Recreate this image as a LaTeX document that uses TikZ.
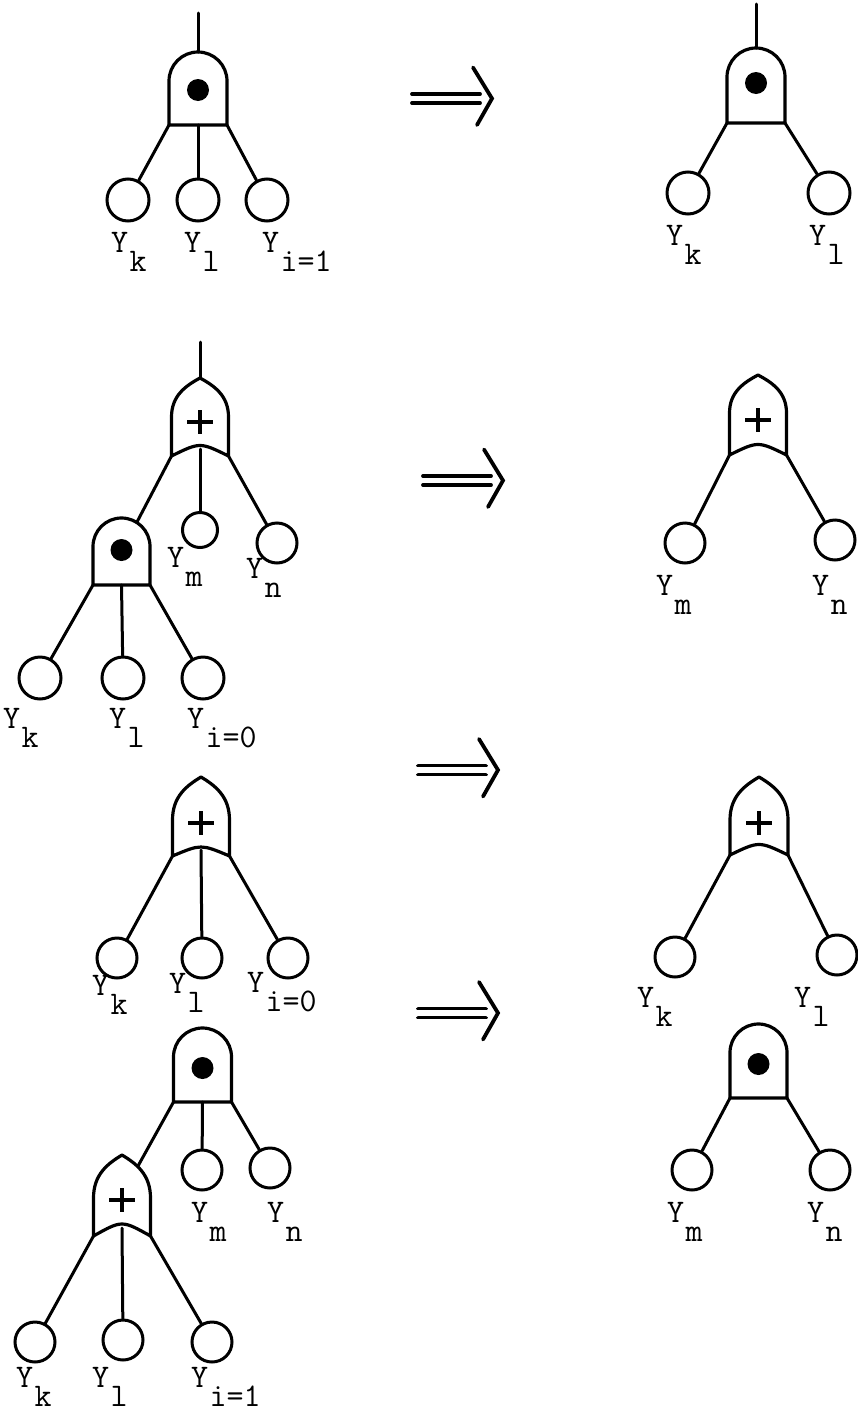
\documentclass[tikz,border=0pt]{standalone}
\usepackage{fontspec}
\tikzset{
  gate/.style={line width=3.2pt, line join=round},
  wire/.style={line width=3pt, line cap=round},
  plussign/.style={line width=3.4pt},
  arr/.style={line width=3.8pt, line cap=round, line join=miter},
  leaf/.style={circle, draw, line width=3pt, minimum size=#1, inner sep=0pt},
  leaf/.default=42pt,
  lab/.style={font=\fontsize{33}{33}\selectfont\ttfamily\addfontfeatures{FakeBold=1}, inner sep=0pt, anchor=base west}
}
\newcommand\AndGate[6]{%
  \draw[gate] (#2-#5,#4) -- (#2-#5,#3+#5) arc[start angle=180,end angle=0,radius=#5pt] -- (#2+#5,#4) -- cycle;
  \fill (#2,#6) circle[radius=11pt];
  \coordinate (#1-l) at (#2-#5,#4);
  \coordinate (#1-m) at (#2,#4);
  \coordinate (#1-r) at (#2+#5,#4);
  \coordinate (#1-t) at (#2,#3);
}
\newcommand\OrGate[8]{%
  \draw[gate] (#2-#4,#6) -- (#2-#4,#5)
    .. controls (#2-#4,#5-0.55*#5+0.55*#3) and (#2-0.5*#4,#3+0.2*#5-0.2*#3) .. (#2,#3)
    .. controls (#2+0.5*#4,#3+0.2*#5-0.2*#3) and (#2+#4,#5-0.55*#5+0.55*#3) .. (#2+#4,#5)
    -- (#2+#4,#6) .. controls (#2,2*#7-#6) .. (#2-#4,#6) -- cycle;
  \draw[plussign] (#2-13,#8) -- (#2+13,#8) (#2,#8-12) -- (#2,#8+12);
  \coordinate (#1-l) at (#2-#4,#6);
  \coordinate (#1-m) at (#2,#7);
  \coordinate (#1-r) at (#2+#4,#6);
  \coordinate (#1-t) at (#2,#3);
}
\newcommand\Implies[2]{%
  \draw[arr] (#1,#2-4.5) -- (#1+68,#2-4.5) (#1,#2+4.5) -- (#1+68,#2+4.5);
  \draw[arr] (#1+61,#2-31) -- (#1+80,#2) -- (#1+65,#2+26.5);
}
\newcommand\Ylab[1]{Y\kern1.5pt\raisebox{-19pt}{#1}}
\begin{document}
\begin{tikzpicture}[x=1pt,y=-1pt]
\fill[white] (0,0) rectangle (858,1411);
\useasboundingbox (0,0) rectangle (858,1411);

% ---------- Row 1 left ----------
\AndGate{g1}{198}{52}{125}{29}{90}
\coordinate (s1) at (198,13);
\draw[wire] (s1) -- (g1-t);
\node[leaf] (a1k) at (128,200) {};
\node[leaf] (a1l) at (198,200) {};
\node[leaf] (a1i) at (267,200) {};
\draw[wire] (g1-l) -- (a1k);
\draw[wire] (g1-m) -- (a1l);
\draw[wire] (g1-r) -- (a1i);
\node[lab] (t1k) at (111,252) {\Ylab{k}};
\node[lab] (t1l) at (184,252) {\Ylab{l}};
\node[lab] (t1i) at (262,252) {\Ylab{i=1}};

% ---------- Row 1 right ----------
\AndGate{h1}{756}{48}{123}{29}{83}
\coordinate (s1r) at (756,4);
\draw[wire] (s1r) -- (h1-t);
\node[leaf] (b1k) at (688,193) {};
\node[leaf] (b1l) at (829,193) {};
\draw[wire] (h1-l) -- (b1k);
\draw[wire] (h1-r) -- (b1l);
\node[lab] (u1k) at (666,245) {\Ylab{k}};
\node[lab] (u1l) at (809,245) {\Ylab{l}};

\Implies{412}{98.5}

% ---------- Row 2 left ----------
\OrGate{o2}{200}{378}{28.5}{417}{456}{449}{422}
\coordinate (s2) at (200,342);
\draw[wire] (s2) -- (o2-t);
\AndGate{g2}{121.5}{518}{585}{28.5}{550}
\coordinate (c2) at (137,522);
\node[leaf=35pt] (a2m) at (200,530) {};
\node[leaf=40pt] (a2n) at (277,543) {};
\draw[wire] (o2-l) -- (c2);
\draw[wire] (o2-m) -- (a2m);
\draw[wire] (o2-r) -- (a2n);
\node[lab] (t2m) at (167,567) {\Ylab{m}};
\node[lab] (t2n) at (246,578) {\Ylab{n}};
\node[leaf] (a2k) at (40,678) {};
\node[leaf] (a2l) at (123,678) {};
\node[leaf] (a2i) at (203,678) {};
\draw[wire] (g2-l) -- (a2k);
\draw[wire] (g2-m) -- (a2l);
\draw[wire] (g2-r) -- (a2i);
\node[lab] (t2k) at (3,728) {\Ylab{k}};
\node[lab] (t2l) at (109,728) {\Ylab{l}};
\node[lab] (t2i) at (187,728) {\Ylab{i=0}};

% ---------- Row 2 right ----------
\OrGate{p2}{758}{375}{28.5}{413}{455}{448}{420}
\node[leaf=40pt] (b2m) at (685,543) {};
\node[leaf=40pt] (b2n) at (835,540) {};
\draw[wire] (p2-l) -- (b2m);
\draw[wire] (p2-r) -- (b2n);
\node[lab] (u2m) at (656,595) {\Ylab{m}};
\node[lab] (u2n) at (812,595) {\Ylab{n}};

\Implies{423}{480.5}

% ---------- Row 3 left ----------
\OrGate{o3}{201}{777}{28.5}{820}{856}{850}{823}
\node[leaf=40pt] (a3k) at (117,958) {};
\node[leaf=40pt] (a3l) at (202,958) {};
\node[leaf=40pt] (a3i) at (288,958) {};
\draw[wire] (o3-l) -- (a3k);
\draw[wire] (o3-m) -- (a3l);
\draw[wire] (o3-r) -- (a3i);
\node[lab] (t3k) at (92,995) {\Ylab{k}};
\node[lab] (t3l) at (169,993) {\Ylab{l}};
\node[lab] (t3i) at (247,992) {\Ylab{i=0}};

% ---------- Row 3 right ----------
\OrGate{p3}{759}{777}{29}{820}{855}{848}{823}
\node[leaf=40pt] (b3k) at (675,957) {};
\node[leaf=40pt] (b3l) at (837,955) {};
\draw[wire] (p3-l) -- (b3k);
\draw[wire] (p3-r) -- (b3l);
\node[lab] (u3k) at (637,1007) {\Ylab{k}};
\node[lab] (u3l) at (794,1007) {\Ylab{l}};

\Implies{418}{770}

% ---------- Row 4 left ----------
\AndGate{g4}{202.5}{1028}{1102}{29}{1068}
\OrGate{o4}{122}{1155}{28.5}{1198}{1236}{1228}{1200}
\coordinate (c4) at (138,1166);
\node[leaf=40pt] (a4m) at (202,1170) {};
\node[leaf=40pt] (a4n) at (270,1168) {};
\draw[wire] (g4-l) -- (c4);
\draw[wire] (g4-m) -- (a4m);
\draw[wire] (g4-r) -- (a4n);
\node[lab] (t4m) at (191,1222) {\Ylab{m}};
\node[lab] (t4n) at (267,1222) {\Ylab{n}};
\node[leaf=40pt] (a4k) at (35,1342) {};
\node[leaf=40pt] (a4l) at (123,1340) {};
\node[leaf=40pt] (a4i) at (212,1342) {};
\draw[wire] (o4-l) -- (a4k);
\draw[wire] (o4-m) -- (a4l);
\draw[wire] (o4-r) -- (a4i);
\node[lab] (t4k) at (16,1387) {\Ylab{k}};
\node[lab] (t4l) at (92,1387) {\Ylab{l}};
\node[lab] (t4i) at (191,1387) {\Ylab{i=1}};

% ---------- Row 4 right ----------
\AndGate{h4}{758.5}{1024}{1098}{28.5}{1064}
\node[leaf=40pt] (b4m) at (692,1170) {};
\node[leaf=40pt] (b4n) at (830,1170) {};
\draw[wire] (h4-l) -- (b4m);
\draw[wire] (h4-r) -- (b4n);
\node[lab] (u4m) at (667,1222) {\Ylab{m}};
\node[lab] (u4n) at (807,1222) {\Ylab{n}};

\Implies{418}{1013}
\end{tikzpicture}
\end{document}
